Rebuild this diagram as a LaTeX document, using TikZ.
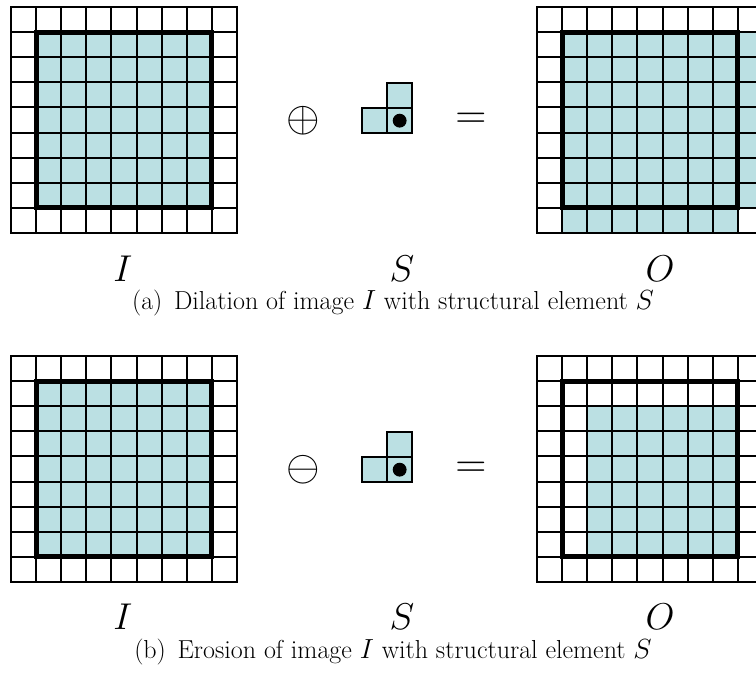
\documentclass[tikz,border=0pt]{standalone}
\usepackage{amsmath}
\usepackage{tikz}
\definecolor{pixblue}{RGB}{187,224,227}

% large math symbols (cm math fonts stop at 24.88pt)
\newcommand{\bigsym}[1]{\scalebox{1.125}{\Huge$#1$}}
\newcommand{\bigop}[1]{\scalebox{1.3}{\Huge$#1$}}

% one 9x9 image: origin, list of filled blocks x0/y0/x1/y1
\newcommand{\pixelimage}[2]{%
  \begin{scope}[shift={#1}, x=18.83pt, y=-18.83pt]
    \foreach \xa/\ya/\xb/\yb in {#2}
      \fill[pix] (\xa,\ya) rectangle (\xb,\yb);
    \foreach \k in {0,...,9} {
      \draw[gridline] (\k,0) -- (\k,9);
      \draw[gridline] (0,\k) -- (9,\k);
    }
    \draw[frame] (1,1) rectangle (8,8);
  \end{scope}}

% the L shaped structural element, origin at its top left corner
\newcommand{\structelem}[1]{%
  \begin{scope}[shift={#1}, x=18.83pt, y=-18.83pt]
    \filldraw[pix, gridline] (0,1) rectangle (1,2);
    \filldraw[pix, gridline] (1,1) rectangle (2,2);
    \filldraw[pix, gridline] (1,0) rectangle (2,1);
    \fill (1.5,1.5) circle (5.2pt);
  \end{scope}}

\begin{document}
\begin{tikzpicture}[x=0.75pt, y=-0.75pt,
    gridline/.style={line width=1.5pt, draw=black, line cap=rect},
    frame/.style={line width=3.8pt, draw=black},
    pix/.style={fill=pixblue},
    sym/.style={inner sep=0pt},
    caption/.style={font=\fontsize{19.5}{23}\selectfont, inner sep=0pt}
    ]
    \clip (0,0) rectangle (756,679);

    % (a) dilation
    \pixelimage{(11,7)}{1/1/8/8}
    \node[sym] (opa) at (303,121) {\bigop{\oplus}};
    \structelem{(362,83)}
    \node[sym] (eqa) at (471,121) {\bigop{=}};
    \pixelimage{(537,7)}{1/1/9/8, 1/8/8/9}

    \node[sym] (ia) at (123,269) {\bigsym{I}};
    \node[sym] (sa) at (402,269) {\bigsym{S}};
    \node[sym] (oa) at (660,269) {\bigsym{O}};
    \node[caption] (capa) at (393,303) {(a)\hspace{0.45em}Dilation of image $I$ with structural element $S$};

    % (b) erosion
    \pixelimage{(11,356)}{1/1/8/8}
    \node[sym] (opb) at (303,470) {\bigop{\ominus}};
    \structelem{(362,432)}
    \node[sym] (eqb) at (471,470) {\bigop{=}};
    \pixelimage{(537,356)}{2/2/8/8}

    \node[sym] (ib) at (123,617) {\bigsym{I}};
    \node[sym] (sb) at (402,617) {\bigsym{S}};
    \node[sym] (ob) at (660,617) {\bigsym{O}};
    \node[caption] (capb) at (393,652) {(b)\hspace{0.45em}Erosion of image $I$ with structural element $S$};
\end{tikzpicture}
\end{document}
